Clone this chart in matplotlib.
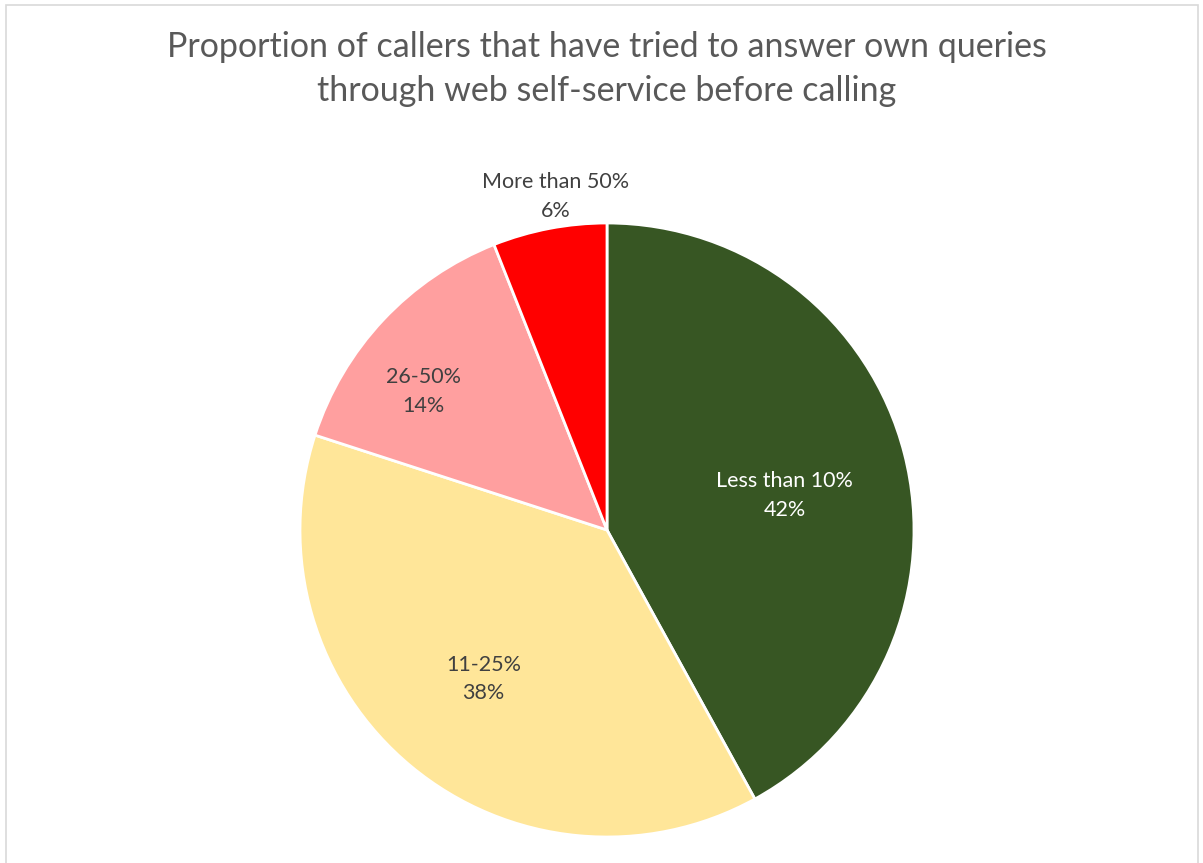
import numpy as np
import matplotlib.pyplot as plt
from matplotlib.patches import Rectangle

# data
categories = ["Less than 10%", "11-25%", "26-50%", "More than 50%"]
shares = [42, 38, 14, 6]
colors = ["#375623", "#FFE699", "#FF9F9F", "#FF0000"]
label_colors = ["white", "#404040", "#404040", "#404040"]
# label placement (radius fraction, angle nudge in degrees)
label_dist = [0.59, 0.63, 0.75, 1.10]
label_nudge = [-3.4, 0.0, 6.2, -2.0]

plt.rcParams["font.family"] = ["Lato", "DejaVu Sans"]

fig = plt.figure(figsize=(12.03, 8.63), dpi=100)
fig.patch.set_facecolor("white")

# thin grey chart border
fig.add_artist(Rectangle((6 / 1203, -0.01), 1192 / 1203, 1 - 5 / 863 + 0.01,
                         transform=fig.transFigure, fill=False,
                         edgecolor="#D9D9D9", linewidth=1.2))

cx, cy, r = 607 / 1203, (863 - 530) / 863, 307
w, h = 2 * r / 1203, 2 * r / 863
ax = fig.add_axes([cx - w / 2, cy - h / 2, w, h])

wedges, _ = ax.pie(shares, colors=colors, startangle=90, counterclock=False,
                   radius=1, wedgeprops=dict(edgecolor="white", linewidth=2))
ax.set_xlim(-1, 1)
ax.set_ylim(-1, 1)
ax.set_aspect("equal")
ax.axis("off")

for wd, cat, val, tc, d, nd in zip(wedges, categories, shares, label_colors, label_dist, label_nudge):
    ang = np.deg2rad((wd.theta1 + wd.theta2) / 2 + nd)
    ax.text(d * np.cos(ang), d * np.sin(ang), f"{cat}\n{val}%", ha="center", va="center",
            color=tc, fontsize=15.5, linespacing=1.55)

fig.text(cx, 1 - 69 / 863, "Proportion of callers that have tried to answer own queries\nthrough web self-service before calling",
         ha="center", va="center", fontsize=24.5, color="#595959", linespacing=1.45)

fig.savefig("out.png", dpi=100)
